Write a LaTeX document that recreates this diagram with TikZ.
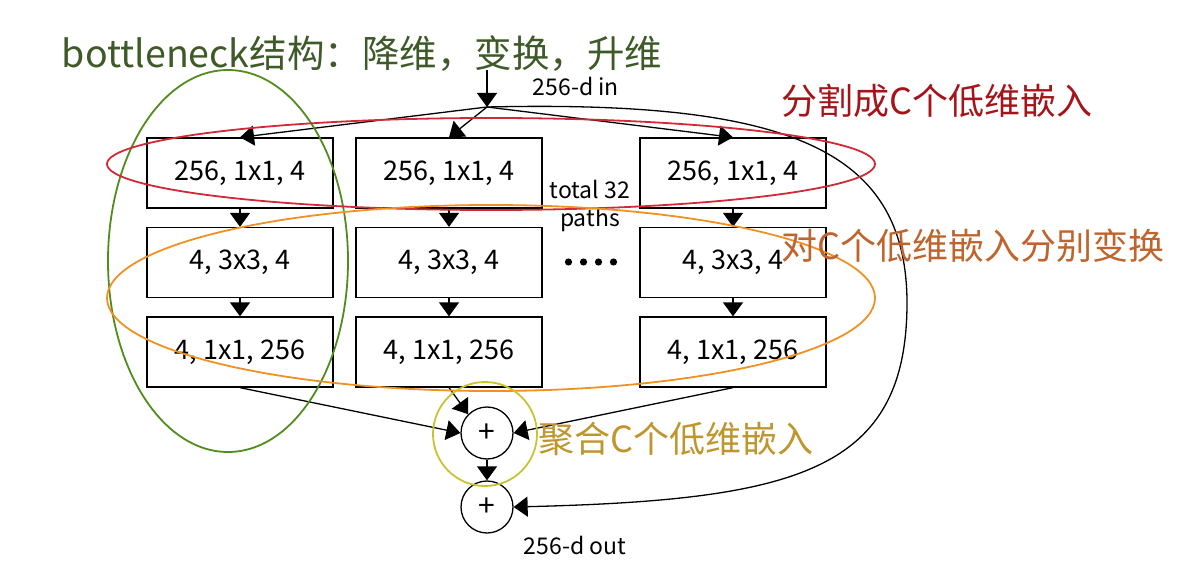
\documentclass[tikz,border=0pt]{standalone}
\usepackage{fontspec}
\setmainfont{Noto Sans CJK SC}
\usetikzlibrary{arrows.meta}
\definecolor{titlegreen}{RGB}{62,90,40}
\definecolor{ringgreen}{RGB}{80,140,30}
\definecolor{splitred}{RGB}{165,20,25}
\definecolor{ringred}{RGB}{210,40,55}
\definecolor{transorange}{RGB}{190,100,45}
\definecolor{ringorange}{RGB}{240,145,35}
\definecolor{mergegold}{RGB}{190,150,45}
\definecolor{ringgold}{RGB}{200,195,50}
\begin{document}
\begin{tikzpicture}[x=1pt, y=-1pt, line width=1.3pt,
  arr/.style={-{Triangle[length=14pt,width=20pt]}},
  layer/.style={draw, minimum width=186pt, minimum height=70pt, font=\fontsize{27}{30}\selectfont},
  sumnode/.style={draw, circle, minimum size=52pt, inner sep=0pt, font=\fontsize{30}{30}\selectfont},
  note/.style={font=\fontsize{36}{40}\selectfont, anchor=west},
  small/.style={font=\fontsize{23}{26}\selectfont}]
\useasboundingbox (0,0) rectangle (1181,583);
% three paths of the block
\node[layer] (a1) at (240,173) {256, 1x1, 4};
\node[layer] (a2) at (240,262.5) {4, 3x3, 4};
\node[layer] (a3) at (240,352) {4, 1x1, 256};
\node[layer] (b1) at (449,173) {256, 1x1, 4};
\node[layer] (b2) at (449,262.5) {4, 3x3, 4};
\node[layer] (b3) at (449,352) {4, 1x1, 256};
\node[layer] (c1) at (733,173) {256, 1x1, 4};
\node[layer] (c2) at (733,262.5) {4, 3x3, 4};
\node[layer] (c3) at (733,352) {4, 1x1, 256};
\node[small] (paths) at (590,189) {total 32};
\node[small] (paths2) at (590,220) {paths};
\node (dots) at (591,262) {\tikz[x=1pt,y=1pt]\foreach \i in {0,1,2,3} \fill (\i*15,0) circle [radius=3.6pt];};
\node[sumnode] (sum) at (487,433) {+};
\node[sumnode] (out) at (487,507) {+};
\node[small] (inlabel) at (576,86) {256-d in};
\node[small] (outlabel) at (575,545) {256-d out};
\coordinate (top) at (487,70);
\coordinate (split) at (487,107);
% connectors
\draw[arr] (top) -- (split);
\draw[arr] (split) -- (a1.north);
\draw[arr] (split) -- (b1.north);
\draw[arr] (split) -- (c1.north);
\draw[arr] (a1) -- (a2);
\draw[arr] (a2) -- (a3);
\draw[arr] (b1) -- (b2);
\draw[arr] (b2) -- (b3);
\draw[arr] (c1) -- (c2);
\draw[arr] (c2) -- (c3);
\draw[arr] (a3.south) -- (sum.west);
\draw[arr] (b3.south) -- (sum.north west);
\draw[arr] (c3.south) -- (sum.east);
\draw[arr] (sum) -- (out);
\draw[arr] (split) .. controls (790,100) and (905,150) .. (907,300)
  .. controls (908,470) and (800,500) .. (out.east);
% annotations
\draw[ringgreen, line width=1.8pt] (228,261) ellipse [x radius=120, y radius=191];
\draw[ringred, line width=1.8pt] (491,164) ellipse [x radius=384, y radius=46];
\draw[ringorange, line width=1.8pt] (491,298) ellipse [x radius=384, y radius=93];
\draw[ringgold, line width=1.8pt] (485,434) circle [radius=52];
\node[note, text=titlegreen, font=\fontsize{37.5}{40}\selectfont] (title) at (58,54) {bottleneck结构：降维，变换，升维};
\node[note, text=splitred] (split note) at (778,101) {分割成C个低维嵌入};
\node[note, text=transorange] (trans note) at (778,246) {对C个低维嵌入分别变换};
\node[note, text=mergegold] (merge note) at (535,439) {聚合C个低维嵌入};
\end{tikzpicture}
\end{document}
